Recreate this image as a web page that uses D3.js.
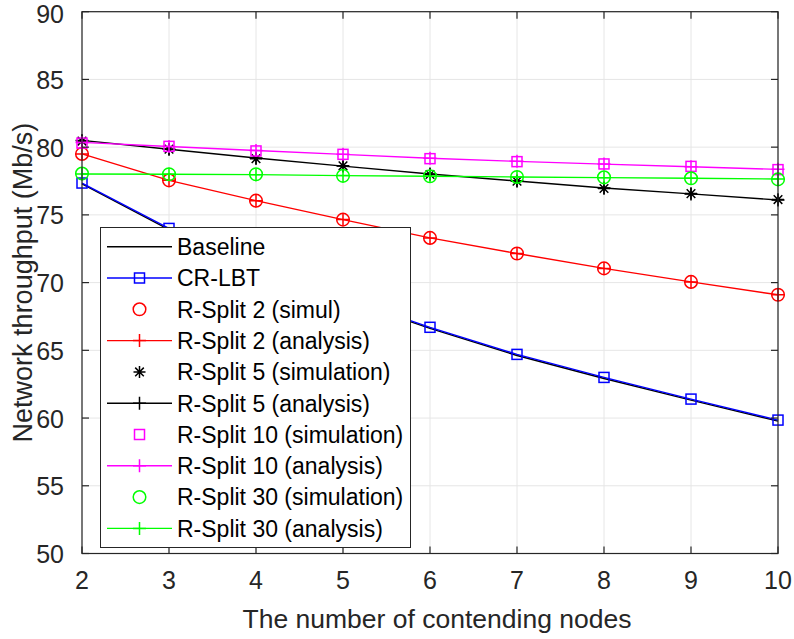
<!DOCTYPE html>
<html>
<head>
<meta charset="utf-8">
<script src="https://cdn.jsdelivr.net/npm/d3@7"></script>
<style>
  html, body { margin: 0; padding: 0; background: #fff; }
  svg { display: block; font-family: "Liberation Sans", Arial, sans-serif; }
</style>
</head>
<body>
<svg id="chart" width="794" height="639"></svg>
<script>
// ---- data ----
const nodes = [2, 3, 4, 5, 6, 7, 8, 9, 10];
const baseline = [77.28, 73.92, 71.32, 68.82, 66.62, 64.62, 62.92, 61.32, 59.77];
const crlbt    = [77.35, 74.0, 71.4, 68.9, 66.7, 64.7, 63.0, 61.4, 59.85];
const rsplit2Sim  = [79.5, 77.55, 76.05, 74.65, 73.3, 72.15, 71.05, 70.05, 69.1];
const rsplit2Ana  = [79.5, 77.55, 76.05, 74.65, 73.3, 72.15, 71.05, 70.05, 69.1];
const rsplit5Sim  = [80.45, 79.85, 79.15, 78.62, 77.98, 77.48, 76.95, 76.57, 76.13];
const rsplit5Ana  = [80.5, 79.85, 79.2, 78.6, 78.02, 77.5, 76.98, 76.55, 76.1];
const rsplit10Sim = [80.3, 80.06, 79.72, 79.47, 79.15, 78.93, 78.76, 78.58, 78.34];
const rsplit10Ana = [80.35, 80.05, 79.75, 79.47, 79.18, 78.95, 78.75, 78.55, 78.36];
const rsplit30Sim = [78.05, 78.0, 78.0, 77.88, 77.85, 77.8, 77.77, 77.7, 77.62];
const rsplit30Ana = [78.02, 78.0, 77.97, 77.9, 77.85, 77.8, 77.75, 77.7, 77.65];
const xTicks = [2, 3, 4, 5, 6, 7, 8, 9, 10];
const yTicks = [50, 55, 60, 65, 70, 75, 80, 85, 90];
const legendLabels = ["Baseline", "CR-LBT", "R-Split 2 (simul)", "R-Split 2 (analysis)",
  "R-Split 5 (simulation)", "R-Split 5 (analysis)", "R-Split 10 (simulation)",
  "R-Split 10 (analysis)", "R-Split 30 (simulation)", "R-Split 30 (analysis)"];
const xLabel = "The number of contending nodes";
const yLabel = "Network throughput (Mb/s)";

// ---- series styles ----
const series = [
  { values: baseline,    color: "#000000", line: true,  marker: null },
  { values: crlbt,       color: "#0000ff", line: true,  marker: "square" },
  { values: rsplit2Sim,  color: "#ff0000", line: false, marker: "circle" },
  { values: rsplit2Ana,  color: "#ff0000", line: true,  marker: "plus" },
  { values: rsplit5Sim,  color: "#000000", line: false, marker: "star" },
  { values: rsplit5Ana,  color: "#000000", line: true,  marker: "plus" },
  { values: rsplit10Sim, color: "#ff00ff", line: false, marker: "square" },
  { values: rsplit10Ana, color: "#ff00ff", line: true,  marker: "plus" },
  { values: rsplit30Sim, color: "#00ff00", line: false, marker: "circle" },
  { values: rsplit30Ana, color: "#00ff00", line: true,  marker: "plus" }
];

const svg = d3.select("#chart");
const L = 82, R = 778, T = 11.7, B = 553.5;
const x = d3.scaleLinear().domain([2, 10]).range([L, R]);
const y = d3.scaleLinear().domain([50, 90]).range([B, T]);
const axisColor = "#262626";

// grid
const grid = svg.append("g");
grid.selectAll("line.gx").data(xTicks).enter().append("line")
  .attr("x1", d => x(d)).attr("x2", d => x(d)).attr("y1", T).attr("y2", B)
  .attr("stroke", "#e6e6e6").attr("stroke-width", 1);
grid.selectAll("line.gy").data(yTicks).enter().append("line")
  .attr("x1", L).attr("x2", R).attr("y1", d => y(d)).attr("y2", d => y(d))
  .attr("stroke", "#e6e6e6").attr("stroke-width", 1);

// markers
function drawMarker(g, type, cx, cy, color) {
  if (type === "square") {
    g.append("rect").attr("x", cx - 5).attr("y", cy - 5).attr("width", 10).attr("height", 10)
      .attr("fill", "none").attr("stroke", color).attr("stroke-width", 1.5);
  } else if (type === "circle") {
    g.append("circle").attr("cx", cx).attr("cy", cy).attr("r", 6.3)
      .attr("fill", "none").attr("stroke", color).attr("stroke-width", 1.5);
  } else if (type === "plus") {
    const s = 6.5;
    g.append("path").attr("d", `M${cx - s},${cy}H${cx + s}M${cx},${cy - s}V${cy + s}`)
      .attr("stroke", color).attr("stroke-width", 1.5).attr("fill", "none");
  } else if (type === "star") {
    const s = 6, d = 4.3;
    g.append("path").attr("d",
      `M${cx - s},${cy}H${cx + s}M${cx},${cy - s}V${cy + s}` +
      `M${cx - d},${cy - d}L${cx + d},${cy + d}M${cx - d},${cy + d}L${cx + d},${cy - d}`)
      .attr("stroke", color).attr("stroke-width", 1.5).attr("fill", "none");
  }
}

const lineGen = d3.line().x((d, i) => x(nodes[i])).y(d => y(d));
const plot = svg.append("g");
series.forEach(s => {
  const g = plot.append("g");
  if (s.line) {
    g.append("path").attr("d", lineGen(s.values)).attr("fill", "none")
      .attr("stroke", s.color).attr("stroke-width", 1.4);
  }
  if (s.marker) {
    s.values.forEach((v, i) => drawMarker(g, s.marker, x(nodes[i]), y(v), s.color));
  }
});

// axes box
svg.append("rect").attr("x", L).attr("y", T).attr("width", R - L).attr("height", B - T)
  .attr("fill", "none").attr("stroke", axisColor).attr("stroke-width", 1.2);

// ticks (inward on all four sides)
const tk = 7;
const ticks = svg.append("g").attr("stroke", axisColor).attr("stroke-width", 1.2);
xTicks.forEach(t => {
  ticks.append("line").attr("x1", x(t)).attr("x2", x(t)).attr("y1", B).attr("y2", B - tk);
  ticks.append("line").attr("x1", x(t)).attr("x2", x(t)).attr("y1", T).attr("y2", T + tk);
});
yTicks.forEach(t => {
  ticks.append("line").attr("x1", L).attr("x2", L + tk).attr("y1", y(t)).attr("y2", y(t));
  ticks.append("line").attr("x1", R).attr("x2", R - tk).attr("y1", y(t)).attr("y2", y(t));
});

// tick labels
svg.append("g").selectAll("text").data(xTicks).enter().append("text")
  .attr("x", d => x(d)).attr("y", 589).attr("text-anchor", "middle")
  .attr("font-size", 25).attr("fill", axisColor).text(d => d);
svg.append("g").selectAll("text").data(yTicks).enter().append("text")
  .attr("x", 64).attr("y", d => Math.max(y(d) + 9.5, 23)).attr("text-anchor", "end")
  .attr("font-size", 25).attr("fill", axisColor).text(d => d);

// axis labels
svg.append("text").attr("x", (L + R) / 2 + 7).attr("y", 628).attr("text-anchor", "middle")
  .attr("font-size", 26.5).attr("fill", axisColor).text(xLabel);
svg.append("text").attr("transform", `translate(32, ${(T + B) / 2}) rotate(-90)`)
  .attr("text-anchor", "middle").attr("font-size", 27).attr("fill", axisColor).text(yLabel);

// legend
const lg = svg.append("g");
const lx = 100.5, ly = 227.5, lw = 310, lh = 320;
lg.append("rect").attr("x", lx).attr("y", ly).attr("width", lw).attr("height", lh)
  .attr("fill", "#fff").attr("stroke", axisColor).attr("stroke-width", 1);
series.forEach((s, i) => {
  const ry = 246.7 + i * 31.3;
  const g = lg.append("g");
  if (s.line) {
    g.append("line").attr("x1", 107).attr("x2", 172).attr("y1", ry).attr("y2", ry)
      .attr("stroke", s.color).attr("stroke-width", 1.4);
  }
  if (s.marker) drawMarker(g, s.marker, 139.5, ry, s.color);
  g.append("text").attr("x", 177).attr("y", ry + 8.3).attr("font-size", 23)
    .attr("fill", "#000").text(legendLabels[i]);
});
</script>
</body>
</html>
